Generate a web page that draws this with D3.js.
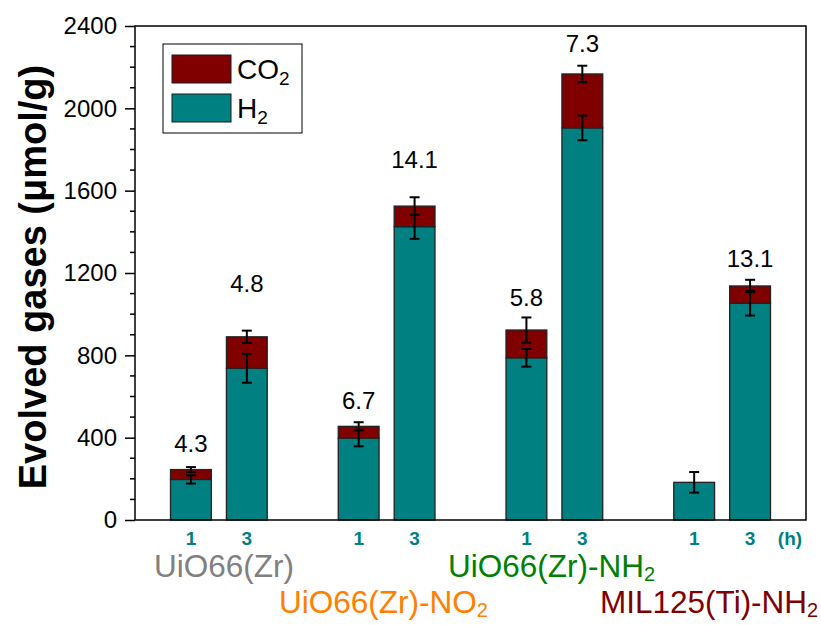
<!DOCTYPE html>
<html><head><meta charset="utf-8">
<script src="https://cdn.jsdelivr.net/npm/d3@7"></script>
<style>html,body{margin:0;padding:0;background:#fff}svg{display:block}text{font-family:Arial,"Liberation Sans",sans-serif}</style>
</head><body>
<script>
// ---- data ----
const groups = ["UiO66(Zr)", "UiO66(Zr)-NO", "UiO66(Zr)-NH", "MIL125(Ti)-NH"];
const groupSub = ["", "2", "2", "2"];
const groupColors = ["#808080", "#ff8000", "#008000", "#800000"];
const hours = ["1", "3"];
const h2Values  = [197, 737, 398, 1425, 788, 1905, 183, 1053];
const co2Values = [48, 153, 57, 100, 135, 262, 0, 84];
const h2Err     = [20, 70, 40, 59, 43, 60, 50, 60];
const totalErr  = [12, 30, 20, 43, 61, 40, 0, 30];
const ratioLabels = ["4.3", "4.8", "6.7", "14.1", "5.8", "7.3", "", "13.1"];
const ratioAnchor = [374, 1152, 583, 1754, 1084, 2318, null, 1273];
const yTicks = [0, 400, 800, 1200, 1600, 2000, 2400];

const W = 821, H = 625;
const m = {l:135, r:806, t:26, b:520};
const teal = "#008080", wine = "#800000";

const svg = d3.select("body").append("svg").attr("width", W).attr("height", H);

const x = d3.scaleLinear().domain([0, 12]).range([m.l, m.r]);
const y = d3.scaleLinear().domain([0, 2400]).range([m.b, m.t]);

const rows = [];
groups.forEach((g, gi) => hours.forEach((h, hi) => {
  const i = gi * 2 + hi;
  rows.push({i, pos: gi * 3 + hi + 1, hour: h, h2: h2Values[i], co2: co2Values[i],
    total: h2Values[i] + co2Values[i], eH: h2Err[i], eT: totalErr[i], label: ratioLabels[i], anchor: ratioAnchor[i]});
}));

const bw = x(0.73) - x(0);

// bars
const bars = svg.append("g");
bars.selectAll("rect.h2").data(rows).join("rect")
  .attr("x", d => x(d.pos) - bw/2).attr("width", bw)
  .attr("y", d => y(d.h2)).attr("height", d => y(0) - y(d.h2))
  .attr("fill", teal).attr("stroke", "#222").attr("stroke-width", 1.3);
bars.selectAll("rect.co2").data(rows.filter(d => d.co2 > 0)).join("rect")
  .attr("x", d => x(d.pos) - bw/2).attr("width", bw)
  .attr("y", d => y(d.total)).attr("height", d => y(d.h2) - y(d.total))
  .attr("fill", wine).attr("stroke", "#222").attr("stroke-width", 1.3);

// error bars
function errBar(cx, v, e) {
  const g = svg.append("g").attr("stroke", "#000").attr("stroke-width", 2);
  const cw = 5;
  g.append("line").attr("x1", cx).attr("x2", cx).attr("y1", y(v - e)).attr("y2", y(v + e));
  g.append("line").attr("x1", cx - cw).attr("x2", cx + cw).attr("y1", y(v + e)).attr("y2", y(v + e));
  g.append("line").attr("x1", cx - cw).attr("x2", cx + cw).attr("y1", y(v - e)).attr("y2", y(v - e));
}
rows.forEach(d => {
  errBar(x(d.pos), d.h2, d.eH);
  if (d.co2 > 0) errBar(x(d.pos), d.total, d.eT);
});

// ratio labels
svg.append("g").selectAll("text").data(rows.filter(d => d.label)).join("text")
  .attr("x", d => x(d.pos)).attr("y", d => y(d.anchor)).attr("dy", "0.36em")
  .attr("text-anchor", "middle").attr("font-size", 24).attr("fill", "#000")
  .text(d => d.label);

// frame
svg.append("rect").attr("x", m.l).attr("y", m.t).attr("width", m.r - m.l).attr("height", m.b - m.t)
  .attr("fill", "none").attr("stroke", "#000").attr("stroke-width", 1.5);

// y axis
const yAxis = d3.axisLeft(y).tickValues(yTicks).tickSize(10).tickPadding(8).tickFormat(d3.format("d"));
const ya = svg.append("g").attr("transform", `translate(${m.l},0)`).call(yAxis);
ya.select(".domain").remove();
ya.selectAll("line").attr("stroke", "#000").attr("stroke-width", 1.5);
ya.selectAll("text").attr("font-size", 24).attr("font-family", "Arial, 'Liberation Sans', sans-serif").attr("fill", "#000");
const minor = d3.range(100, 2400, 100).filter(v => v % 400 !== 0);
svg.append("g").selectAll("line").data(minor).join("line")
  .attr("x1", m.l - 5).attr("x2", m.l).attr("y1", d => y(d)).attr("y2", d => y(d))
  .attr("stroke", "#000").attr("stroke-width", 1.5);

// y title
svg.append("text").attr("transform", `translate(46,${(m.t + m.b)/2 + 4}) rotate(-90)`)
  .attr("text-anchor", "middle").attr("font-size", 38).attr("font-weight", "bold").attr("fill", "#000")
  .text("Evolved gases (μmol/g)");

// hour labels
svg.append("g").selectAll("text").data(rows).join("text")
  .attr("x", d => x(d.pos)).attr("y", 538).attr("dy", "0.36em")
  .attr("text-anchor", "middle").attr("font-size", 19).attr("font-weight", "bold").attr("fill", teal)
  .text(d => d.hour);
svg.append("text").attr("x", 790).attr("y", 538).attr("dy", "0.36em").attr("text-anchor", "middle")
  .attr("font-size", 19).attr("font-weight", "bold").attr("fill", teal).text("(h)");

// group labels
const glPos = [{x: 224, y: 577, a: "middle"}, {x: 279, y: 613, a: "start"}, {x: 448, y: 577, a: "start"}, {x: 600, y: 613, a: "start"}];
groups.forEach((g, gi) => {
  const t = svg.append("text").attr("x", glPos[gi].x).attr("y", glPos[gi].y)
    .attr("text-anchor", glPos[gi].a).attr("font-size", 31.5).attr("fill", groupColors[gi]);
  t.append("tspan").text(g);
  if (groupSub[gi]) t.append("tspan").attr("font-size", 20).attr("dy", 4).text(groupSub[gi]);
});

// legend
const lg = svg.append("g");
lg.append("rect").attr("x", 163).attr("y", 44).attr("width", 139).attr("height", 89)
  .attr("fill", "#fff").attr("stroke", "#000").attr("stroke-width", 1);
const legendItems = [{name: "CO", sub: "2", color: wine}, {name: "H", sub: "2", color: teal}];
legendItems.forEach((it, k) => {
  const yy = 55 + k * 39;
  lg.append("rect").attr("x", 172).attr("y", yy).attr("width", 59).attr("height", 28)
    .attr("fill", it.color).attr("stroke", "#1a1a1a").attr("stroke-width", 1);
  const t = lg.append("text").attr("x", 237).attr("y", yy + 24).attr("font-size", 28).attr("fill", "#000");
  t.append("tspan").text(it.name);
  t.append("tspan").attr("font-size", 19).attr("dy", 6).text(it.sub);
});
</script>
</body></html>
